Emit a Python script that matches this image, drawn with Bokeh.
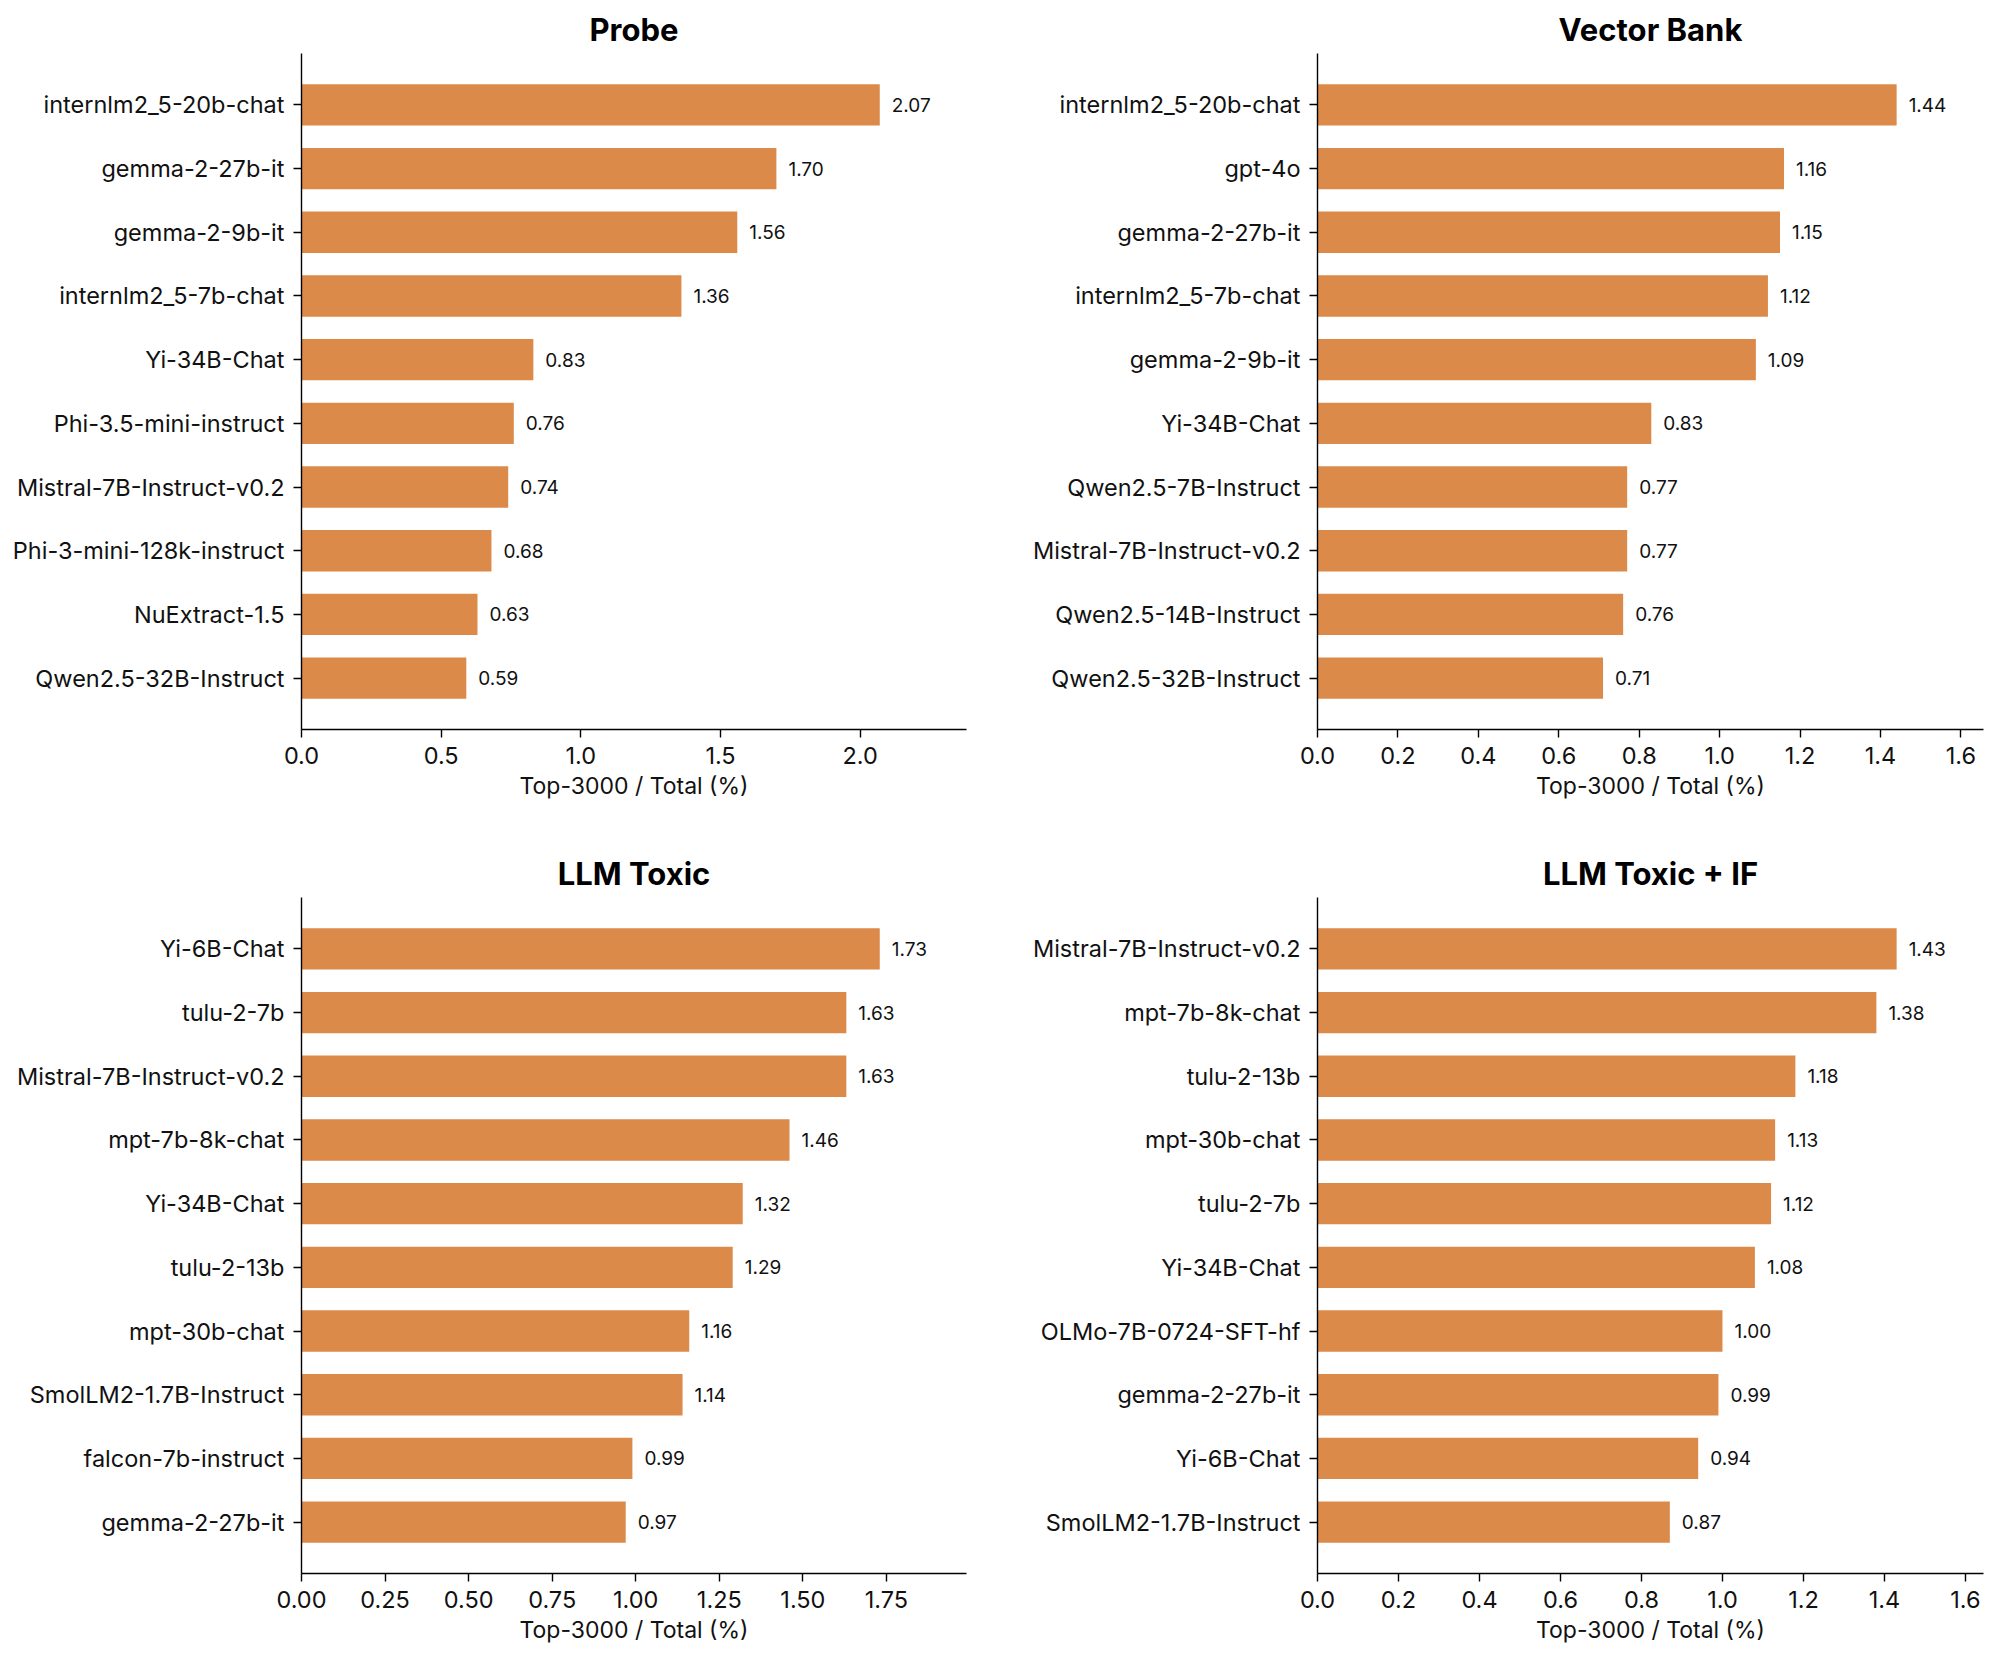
import numpy as np
from bokeh.plotting import figure
from bokeh.layouts import column, row
from bokeh.models import Range1d, FixedTicker, NumeralTickFormatter, ColumnDataSource
from bokeh.core.properties import value
from bokeh.embed import file_html
from bokeh.resources import INLINE

probe_models = ["internlm2_5-20b-chat", "gemma-2-27b-it", "gemma-2-9b-it", "internlm2_5-7b-chat",
                "Yi-34B-Chat", "Phi-3.5-mini-instruct", "Mistral-7B-Instruct-v0.2",
                "Phi-3-mini-128k-instruct", "NuExtract-1.5", "Qwen2.5-32B-Instruct"]
probe_vals = [2.07, 1.70, 1.56, 1.36, 0.83, 0.76, 0.74, 0.68, 0.63, 0.59]

bank_models = ["internlm2_5-20b-chat", "gpt-4o", "gemma-2-27b-it", "internlm2_5-7b-chat",
               "gemma-2-9b-it", "Yi-34B-Chat", "Qwen2.5-7B-Instruct", "Mistral-7B-Instruct-v0.2",
               "Qwen2.5-14B-Instruct", "Qwen2.5-32B-Instruct"]
bank_vals = [1.44, 1.16, 1.15, 1.12, 1.09, 0.83, 0.77, 0.77, 0.76, 0.71]

toxic_models = ["Yi-6B-Chat", "tulu-2-7b", "Mistral-7B-Instruct-v0.2", "mpt-7b-8k-chat",
                "Yi-34B-Chat", "tulu-2-13b", "mpt-30b-chat", "SmolLM2-1.7B-Instruct",
                "falcon-7b-instruct", "gemma-2-27b-it"]
toxic_vals = [1.73, 1.63, 1.63, 1.46, 1.32, 1.29, 1.16, 1.14, 0.99, 0.97]

toxif_models = ["Mistral-7B-Instruct-v0.2", "mpt-7b-8k-chat", "tulu-2-13b", "mpt-30b-chat",
                "tulu-2-7b", "Yi-34B-Chat", "OLMo-7B-0724-SFT-hf", "gemma-2-27b-it",
                "Yi-6B-Chat", "SmolLM2-1.7B-Instruct"]
toxif_vals = [1.43, 1.38, 1.18, 1.13, 1.12, 1.08, 1.00, 0.99, 0.94, 0.87]

probe_ticks = [0.0, 0.5, 1.0, 1.5, 2.0]
bank_ticks = [0.0, 0.2, 0.4, 0.6, 0.8, 1.0, 1.2, 1.4, 1.6]
toxic_ticks = [0.0, 0.25, 0.5, 0.75, 1.0, 1.25, 1.5, 1.75]
toxif_ticks = [0.0, 0.2, 0.4, 0.6, 0.8, 1.0, 1.2, 1.4, 1.6]

FONT = "Inter"
BAR = "#DC8A4A"


def panel(title, models, vals, ticks, fmt, left, right, top, bottom, fw):
    n = len(models)
    ypos = list(range(n - 1, -1, -1))
    src = ColumnDataSource(dict(y=ypos, v=vals, lab=["%.2f" % v for v in vals]))
    p = figure(frame_width=fw, frame_height=676, output_backend="svg", toolbar_location=None,
               x_range=Range1d(0, max(vals) * 1.15),
               y_range=Range1d(-0.8075, n - 1 + 0.8075),
               min_border_left=left, min_border_right=right,
               min_border_top=top, min_border_bottom=bottom)
    p.hbar(y="y", right="v", left=0, height=0.65, source=src, fill_color=BAR,
           line_color=None)
    p.text(x="v", y="y", text="lab", source=src, x_offset=12, text_baseline="middle",
           text_align="left", text_font=value(FONT), text_font_size="19px", text_color="#111111")

    p.title.text = title
    p.title.align = "center"
    p.title.text_font = FONT
    p.title.text_font_size = "31px"
    p.title.text_font_style = "bold"
    p.title.text_color = "#000000"
    p.title.standoff = 11

    p.outline_line_color = None
    p.xgrid.visible = False
    p.ygrid.visible = False

    for ax in (p.xaxis, p.yaxis):
        ax.axis_line_width = 1.4
        ax.axis_line_color = "#000000"
        ax.major_tick_line_width = 1.4
        ax.major_tick_in = 0
        ax.major_tick_out = 8
        ax.minor_tick_line_color = None
        ax.major_label_text_font = FONT
        ax.major_label_text_font_size = "23.5px"
        ax.major_label_text_color = "#111111"
        ax.major_label_standoff = 9

    p.xaxis.ticker = FixedTicker(ticks=ticks)
    p.xaxis.formatter = NumeralTickFormatter(format=fmt)
    p.xaxis.axis_label = "Top-3000 / Total (%)"
    p.xaxis.axis_label_text_font = FONT
    p.xaxis.axis_label_text_font_size = "23px"
    p.xaxis.axis_label_text_font_style = "normal"
    p.xaxis.axis_label_text_color = "#111111"
    p.xaxis.axis_label_standoff = 5

    p.yaxis.ticker = FixedTicker(ticks=ypos)
    p.yaxis.major_label_overrides = {y: m for y, m in zip(ypos, models)}
    return p


p1 = panel("Probe", probe_models, probe_vals, probe_ticks, "0.0", 301, 42, 53, 115, 665)
p2 = panel("Vector Bank", bank_models, bank_vals, bank_ticks, "0.0", 309, 8, 53, 115, 666)
p3 = panel("LLM Toxic", toxic_models, toxic_vals, toxic_ticks, "0.00", 301, 42, 53, 70, 665)
p4 = panel("LLM Toxic + IF", toxif_models, toxif_vals, toxif_ticks, "0.0", 309, 8, 53, 70, 666)

p = column(row(p1, p2), row(p3, p4))
open("out.html", "w").write(file_html(p, INLINE))
